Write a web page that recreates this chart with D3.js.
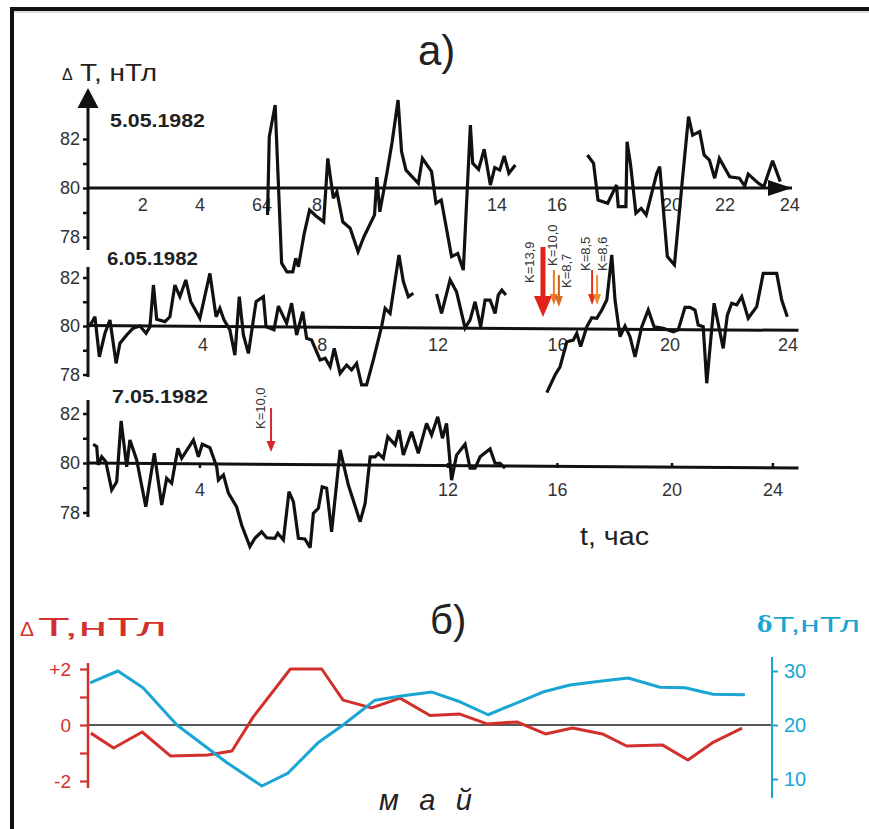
<!DOCTYPE html>
<html><head><meta charset="utf-8">
<script src="https://cdn.jsdelivr.net/npm/d3@7"></script>
<style>html,body{margin:0;padding:0;background:#fff;}svg{display:block;font-family:"Liberation Sans",Arial,sans-serif;}</style>
</head><body><svg id="c" width="869" height="829"></svg>
<script>
// ---------- DATA ----------
// panel a) : [hour, ΔT nT]
const may5_a = [[6.14,78.90],[6.20,82.09],[6.40,83.39],[6.62,76.93],[6.80,76.58],[7.00,76.58],[7.10,77.13],[7.19,76.79],[7.39,78.15],[7.57,79.10],[7.79,78.86],[8.05,78.62],[8.19,81.21],[8.38,79.58],[8.50,79.85],[8.70,78.62],[8.95,78.36],[9.22,77.40],[9.42,78.01],[9.78,78.90],[9.86,80.44],[9.96,79.03],[10.20,80.60],[10.38,81.89],[10.58,83.59],[10.70,81.48],[10.85,80.73],[11.27,80.19],[11.41,81.21],[11.72,80.67],[11.87,79.38],[12.05,79.51],[12.40,77.20],[12.61,77.33],[12.80,76.65],[13.04,82.57],[13.12,81.01],[13.32,80.76],[13.51,81.58],[13.72,80.12],[13.87,80.83],[14.04,80.73],[14.19,81.31],[14.35,80.60],[14.57,80.94]];
const may5_b = [[17.02,81.35],[17.23,81.01],[17.38,79.51],[17.71,79.38],[18.01,80.12],[18.07,79.24],[18.33,79.24],[18.37,81.89],[18.49,80.94],[18.67,78.97],[18.85,79.17],[19.02,78.90],[19.38,80.60],[19.48,80.87],[19.74,77.20],[19.98,76.86],[20.24,80.19],[20.46,82.91],[20.60,82.16],[20.84,82.30],[20.99,81.35],[21.17,81.14],[21.35,80.40],[21.51,81.21],[21.86,80.46],[22.19,80.40],[22.37,80.08],[22.49,80.57],[22.84,80.19],[23.02,80.05],[23.32,81.11],[23.58,80.26]];
const may6_a = [[0.08,79.97],[0.27,80.38],[0.42,78.73],[0.61,79.70],[0.78,80.25],[0.99,78.46],[1.12,79.29],[1.35,79.63],[1.57,79.91],[1.80,80.00],[2.01,79.70],[2.14,79.97],[2.26,81.69],[2.37,80.28],[2.65,80.18],[2.82,80.38],[2.99,81.69],[3.16,81.21],[3.36,81.90],[3.53,81.00],[3.84,80.32],[4.18,82.17],[4.39,80.38],[4.52,80.73],[4.66,80.25],[4.86,79.84],[5.03,78.80],[5.18,81.21],[5.32,79.63],[5.49,78.87],[5.75,81.00],[6.00,81.21],[6.09,79.97],[6.36,79.84],[6.51,80.82],[6.79,80.11],[6.96,80.94],[7.13,79.63],[7.34,80.59],[7.47,79.49],[7.64,79.42],[7.93,78.60],[8.10,78.67],[8.27,78.32],[8.41,79.08],[8.61,78.05],[8.83,78.39],[9.00,78.19],[9.17,78.46],[9.34,77.57],[9.51,77.57],[9.74,78.60],[10.02,79.97],[10.14,80.73],[10.31,80.52],[10.61,82.93],[10.76,81.83],[10.93,81.21],[11.10,81.35]];
const may6_b = [[11.89,81.32],[12.06,80.52],[12.35,81.90],[12.57,81.41],[12.86,79.91],[13.03,80.25],[13.20,81.00],[13.39,79.97],[13.54,81.07],[13.71,81.07],[13.88,80.52],[13.99,81.28],[14.11,81.48],[14.25,81.28]];
const may6_c = [[15.64,77.25],[15.92,77.98],[16.09,78.32],[16.32,79.35],[16.54,79.42],[16.66,79.70],[16.79,79.15],[17.00,79.97],[17.17,80.34],[17.34,80.32],[17.51,80.66],[17.68,81.07],[17.85,82.93],[17.96,81.07],[18.13,79.56],[18.30,80.00],[18.47,79.56],[18.64,78.73],[18.87,79.97],[19.09,80.66],[19.29,79.97],[19.60,79.91],[19.94,79.76],[20.11,79.84],[20.34,80.77],[20.51,80.77],[20.68,80.66],[20.79,80.04],[20.96,79.97],[21.08,77.64],[21.33,80.94],[21.64,79.08],[21.78,80.45],[21.93,80.94],[22.10,80.87],[22.27,81.21],[22.49,80.32],[22.78,80.80],[23.00,82.17],[23.46,82.17],[23.63,81.07],[23.82,80.38]];
const may7_a = [[0.21,80.76],[0.33,80.66],[0.38,79.92],[0.50,80.25],[0.64,80.05],[0.84,78.91],[1.01,79.24],[1.16,81.70],[1.35,79.85],[1.46,80.93],[1.69,80.12],[2.00,78.23],[2.29,80.39],[2.54,78.30],[2.71,79.38],[2.88,79.18],[3.09,80.59],[3.22,80.19],[3.62,80.93],[3.79,80.25],[3.92,80.76],[4.18,80.62],[4.41,79.85],[4.47,79.31],[4.64,79.52],[4.81,78.78],[5.09,78.23],[5.26,77.49],[5.54,76.62],[5.71,76.96],[5.94,77.22],[6.11,76.98],[6.39,76.96],[6.49,77.16],[6.68,76.89],[6.87,78.84],[7.02,78.44],[7.19,76.96],[7.41,76.93],[7.59,76.58],[7.70,77.97],[7.87,78.17],[8.00,79.04],[8.15,78.98],[8.32,77.22],[8.61,80.53],[8.89,79.11],[9.29,77.63],[9.46,78.37],[9.63,80.25],[9.80,80.25],[9.91,80.39],[10.08,80.19],[10.23,81.06],[10.48,80.73],[10.61,81.33],[10.76,80.32],[11.04,81.26],[11.27,80.39],[11.55,81.60],[11.72,81.13],[11.93,81.87],[12.09,81.00],[12.23,81.60],[12.40,79.31],[12.57,80.32],[12.86,80.76],[13.03,79.79],[13.20,79.79],[13.37,80.25],[13.71,80.57],[13.88,79.99],[14.05,79.99],[14.22,79.79]];

const yTicks = [78,79,80,81,82];
const yTickLabels = ["78","","80","","82"];
const hourTicks1 = [1.9,3.84,5.95,7.82,13.95,15.99,19.9,21.7,23.9];
const hourLabels1 = ["2","4","64","8","14","16","20","22","24"];
const hourTicks2 = [3.95,8.0,11.94,16.0,19.83,23.84];
const hourLabels2 = ["4","8","12","16","20","24"];
const hourTicks3 = [3.84,12.28,16.0,19.9,23.33];
const hourLabels3 = ["4","12","16","20","24"];
const baseline1 = [[0,80],[23.98,80]];
const baseline2 = [[0,80.02],[24.2,79.82]];
const baseline3 = [[0,80],[24.2,79.8]];
const dates = ["5.05.1982","6.05.1982","7.05.1982"];

// K-index arrows (panel 6.05 and 7.05): hour, top value, bottom value
const kHours6 = [15.51,15.88,16.05,17.18,17.35];
const kTop6 = [83.26,82.31,82.10,82.31,82.10];
const kBottom6 = [80.37,80.87,80.78,80.87,80.87];
const kLabels6 = ["K=13,9","K=10,0","K=8,7","K=8,5","K=8,6"];
const kHours7 = [6.26];
const kTop7 = [82.22];
const kBottom7 = [80.44];
const kLabels7 = ["K=10,0"];

// panel б): day-of-month position, ΔT (red) and δT (blue)
const redDays = [0.1,0.9,1.9,2.9,4.2,5.05,5.8,7.1,8.2,8.95,9.95,10.95,12.0,13.05,14.0,15.05,16.05,17.0,18.05,18.9,20.15,21.05,21.95,22.95];
const redVals = [-0.29,-0.82,-0.25,-1.11,-1.07,-0.93,0.29,2.0,2.0,0.89,0.61,0.96,0.34,0.39,0.04,0.11,-0.32,-0.11,-0.32,-0.75,-0.71,-1.25,-0.61,-0.11];
const blueDays = [0.07,1.05,1.93,3.12,4.88,6.1,7.02,8.07,8.95,10.07,11.05,12.07,13.05,14.04,15.05,15.96,16.91,17.96,18.95,20.07,20.95,21.93,23.05];
const blueVals = [27.8,30.0,26.9,20.0,13.0,8.7,11.1,16.7,20.0,24.6,25.4,26.1,24.3,21.9,24.1,26.1,27.4,28.1,28.7,27.0,26.9,25.7,25.6];
const redTicks = [-2,-1,0,1,2];
const redTickLabels = ["-2","","0","","+2"];
const blueTicks = [10,20,30];

// ---------- DRAW ----------
const svg = d3.select("#c");
svg.append("rect").attr("width",869).attr("height",829).attr("fill","#fff");
// frame
svg.append("path").attr("d","M12,829 L12,9 L869,9").attr("fill","none").attr("stroke","#111").attr("stroke-width",4);
svg.append("line").attr("x1",14).attr("x2",869).attr("y1",12).attr("y2",12).attr("stroke","#bbb").attr("stroke-width",1);

const x = d3.scaleLinear().domain([0,24]).range([87,792.6]);
const RED = "#d2302c", BLUE = "#1aa5d3", DARK = "#333";

const panels = [
  {y80:188, ppu:24.5, ax0:104, ax1:250, lblY:211, date:[110,127,95], segs:[may5_a,may5_b], base:baseline1, ticks:hourTicks1, labels:hourLabels1},
  {y80:326, ppu:24.25, ax0:267, ax1:377, lblY:351, date:[107,265,91], segs:[may6_a,may6_b,may6_c], base:baseline2, ticks:hourTicks2, labels:hourLabels2},
  {y80:463, ppu:24.75, ax0:400, ax1:517, lblY:496, date:[112,403,96], segs:[may7_a], base:baseline3, ticks:hourTicks3, labels:hourLabels3}
];

panels.forEach((p,i)=>{
  const y = d3.scaleLinear().domain([78,82]).range([p.y80+2*p.ppu, p.y80-2*p.ppu]);
  p.y = y;
  const g = svg.append("g");
  const ax = g.append("g").attr("transform","translate(88,0)")
    .call(d3.axisLeft(y).tickValues(yTicks).tickSize(5).tickSizeOuter(0).tickPadding(3)
      .tickFormat((d,j)=>yTickLabels[j]));
  ax.select(".domain").remove();
  ax.selectAll(".tick line").attr("stroke","#111").attr("stroke-width",2.5);
  ax.selectAll(".tick text").attr("fill",DARK).attr("font-size",18).attr("font-family","Liberation Sans, Arial");
  g.append("line").attr("x1",88).attr("x2",88).attr("y1",p.ax0).attr("y2",p.ax1).attr("stroke","#111").attr("stroke-width",3);
  const line = d3.line().x(d=>x(d[0])).y(d=>y(d[1]));
  g.append("path").attr("d",line(p.base)).attr("fill","none").attr("stroke","#111").attr("stroke-width",3);
  g.selectAll("text.h").data(p.ticks).join("text").attr("class","h")
    .attr("x",d=>x(d)).attr("y",p.lblY).attr("text-anchor","middle")
    .attr("font-size",18).attr("fill",DARK).text((d,j)=>p.labels[j]);
  if(i===2){
    g.selectAll("line.tk").data(p.ticks).join("line").attr("class","tk")
      .attr("x1",d=>x(d)).attr("x2",d=>x(d)).attr("y1",d=>y(80)).attr("y2",d=>y(80)+5)
      .attr("stroke","#111").attr("stroke-width",2.5);
  }
  g.append("text").attr("x",p.date[0]).attr("y",p.date[1]).attr("font-size",19).attr("font-weight","bold")
    .attr("fill","#222").attr("textLength",p.date[2]).attr("lengthAdjust","spacingAndGlyphs").text(dates[i]);
  p.segs.forEach(s=>{
    g.append("path").attr("d",line(s)).attr("fill","none").attr("stroke","#111")
      .attr("stroke-width",3.2).attr("stroke-linejoin","miter").attr("stroke-miterlimit",3);
  });
});

// arrow heads of panel a) axes
svg.append("path").attr("d","M88,88 L98.5,108 L77.5,108 Z").attr("fill","#111");
svg.append("path").attr("d",`M${x(23.98)},188 L${x(23.98)-24},180 L${x(23.98)-24},196 Z`).attr("fill","#111");

// K arrows
function kArrows(hours, tops, bottoms, labels, y, specs){
  hours.forEach((h,j)=>{
    const s = specs[j];
    const xa = x(h), yt = y(tops[j]), yb = y(bottoms[j]);
    svg.append("line").attr("x1",xa).attr("x2",xa).attr("y1",yt).attr("y2",yb-s.hh+1)
      .attr("stroke",s.c).attr("stroke-width",s.w);
    svg.append("path").attr("d",`M${xa},${yb} L${xa-s.hw/2},${yb-s.hh} L${xa+s.hw/2},${yb-s.hh} Z`).attr("fill",s.hc||s.c);
    svg.append("text").attr("transform",`translate(${xa+s.dx+4.5},${s.ly}) rotate(-90)`)
      .attr("font-size",13).attr("fill",DARK).text(labels[j]);
  });
}
kArrows(kHours6,kTop6,kBottom6,kLabels6,panels[1].y,[
  {c:"#e3231b",w:5,hw:18,hh:21,dx:-13,ly:283},
  {c:"#ec7a24",w:2,hw:8,hh:11,dx:-1,ly:266},
  {c:"#c9621c",w:2,hw:8,hh:11,dx:8,ly:288,hc:"#d86b1e"},
  {c:"#e2301f",w:2,hw:8,hh:11,dx:-7,ly:271},
  {c:"#f08a2c",w:2,hw:8,hh:11,dx:5,ly:271}
]);
kArrows(kHours7,kTop7,kBottom7,kLabels7,panels[2].y,[
  {c:"#d8262a",w:2,hw:9,hh:11,dx:-11,ly:429}
]);

// titles a)
svg.append("text").attr("x",418).attr("y",65).attr("font-size",42).attr("fill","#222").text("а)");
svg.append("text").attr("x",62).attr("y",80).attr("font-size",16).attr("fill","#222").text("Δ");
svg.append("text").attr("x",80).attr("y",81).attr("font-size",23).attr("fill","#222")
  .attr("textLength",77).attr("lengthAdjust","spacingAndGlyphs").text("T, нТл");
svg.append("text").attr("x",580).attr("y",545).attr("font-size",26).attr("fill","#222")
  .attr("textLength",69).attr("lengthAdjust","spacingAndGlyphs").text("t, час");

// ---------- panel б) ----------
const xb = d3.scaleLinear().domain([0,24]).range([88,772]);
const yr = d3.scaleLinear().domain([-2,2]).range([781,669]);
const yb = d3.scaleLinear().domain([10,30]).range([779,671]);

svg.append("text").attr("x",430).attr("y",634).attr("font-size",40).attr("fill","#222").text("б)");
svg.append("text").attr("x",20).attr("y",636).attr("font-size",21).attr("fill",RED).text("Δ");
svg.append("text").attr("x",38).attr("y",636).attr("font-size",25).attr("fill",RED)
  .attr("textLength",129).attr("lengthAdjust","spacingAndGlyphs").text("T,нТл");
svg.append("text").attr("x",757).attr("y",632).attr("font-size",23).attr("font-weight","bold")
  .attr("font-family","DejaVu Serif, serif").attr("fill",BLUE).text("δ");
svg.append("text").attr("x",773).attr("y",632).attr("font-size",22).attr("fill",BLUE)
  .attr("textLength",87).attr("lengthAdjust","spacingAndGlyphs").text("T,нТл");

svg.append("line").attr("x1",88).attr("x2",772).attr("y1",yr(0)).attr("y2",yr(0)).attr("stroke","#222").attr("stroke-width",1.3);

const ra = svg.append("g").attr("transform","translate(88,0)")
  .call(d3.axisLeft(yr).tickValues(redTicks).tickSize(8).tickSizeOuter(0).tickPadding(9).tickFormat((d,j)=>redTickLabels[j]));
ra.select(".domain").remove();
ra.selectAll(".tick line").attr("stroke",RED).attr("stroke-width",2.2);
ra.selectAll(".tick text").attr("fill",RED).attr("font-size",19).attr("font-family","Liberation Sans, Arial");
svg.append("line").attr("x1",88).attr("x2",88).attr("y1",663).attr("y2",788).attr("stroke",RED).attr("stroke-width",2.5);

const ba = svg.append("g").attr("transform","translate(772,0)")
  .call(d3.axisRight(yb).tickValues(blueTicks).tickSize(6).tickSizeOuter(0).tickPadding(6));
ba.select(".domain").remove();
ba.selectAll(".tick line").attr("stroke",BLUE).attr("stroke-width",2);
ba.selectAll(".tick text").attr("fill",BLUE).attr("font-size",20).attr("font-family","Liberation Sans, Arial");
svg.append("line").attr("x1",772).attr("x2",772).attr("y1",657).attr("y2",798).attr("stroke",BLUE).attr("stroke-width",2);

const redLine = d3.line().x((d,j)=>xb(redDays[j])).y(d=>yr(d));
svg.append("path").attr("d",redLine(redVals)).attr("fill","none").attr("stroke",RED).attr("stroke-width",3).attr("stroke-linejoin","round");
const blueLine = d3.line().x((d,j)=>xb(blueDays[j])).y(d=>yb(d));
svg.append("path").attr("d",blueLine(blueVals)).attr("fill","none").attr("stroke",BLUE).attr("stroke-width",3).attr("stroke-linejoin","round");

svg.append("text").attr("x",379).attr("y",810).attr("font-size",29).attr("font-style","italic").attr("fill","#222")
  .attr("textLength",93).attr("lengthAdjust","spacing").text("м а й");
</script></body></html>
